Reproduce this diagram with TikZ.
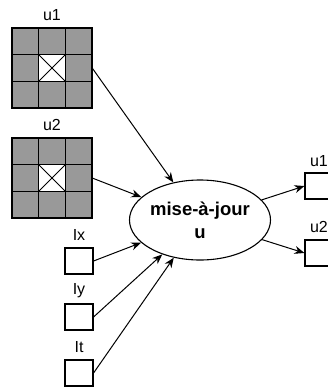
\documentclass[tikz,border=0pt]{standalone}
\usepackage{fontspec}
\setmainfont{Liberation Sans}
\usetikzlibrary{arrows.meta,shapes.geometric}
\begin{document}
\begin{tikzpicture}[x=1pt,y=-1pt,font=\fontsize{16}{18}\selectfont,
  box/.style={draw,line width=1.1pt,minimum width=28pt,minimum height=26pt,inner sep=0pt},
  fl/.style={-{Stealth[length=10pt,width=8pt]},line width=1pt}]
\useasboundingbox(0,0)rectangle(328,389);
% grilles u1 et u2
\foreach \g/\t/\y in {g1/u1/28,g2/u2/138}{
  \fill[gray!80](12,\y)rectangle++(80,80);\fill[white](38.67,\y+26.67)rectangle++(26.67,26.67);
  \draw[line width=1.5pt](12,\y)rectangle++(80,80);
  \foreach \i in {1,2}{\draw[line width=1.5pt](12+\i*26.67,\y)--++(0,80);\draw[line width=1.5pt](12,\y+\i*26.67)--++(80,0);}
  \draw[line width=1pt](38.67,\y+26.67)--++(26.67,26.67)(65.33,\y+26.67)--++(-26.67,26.67);
  \node[minimum width=80pt,minimum height=80pt,inner sep=0pt](\g)at(52,\y+40){};
  \node at(52,\y-13){\t};
}
% entrees Ix, Iy, It
\foreach \n/\t/\y in {ix/Ix/261,iy/Iy/317,it/It/373}{\node[box](\n)at(79,\y){};\node at(79,\y-26){\t};}
\node[draw,line width=1.1pt,ellipse,minimum width=107pt,minimum height=80pt,inner sep=0pt,align=center,
  font=\bfseries\fontsize{18.5}{23}\selectfont](maj)at(200,220){mise-à-jour\\u};
% sorties
\node[box](o1)at(319,186){};\node at(319,161){u1};
\node[box](o2)at(319,253){};\node at(319,227){u2};
\foreach \a in {g1,g2,ix,iy,it}{\draw[fl](\a.east)--(maj);}
\draw[fl](maj)--(o1.west);\draw[fl](maj)--(o2.west);
\end{tikzpicture}
\end{document}
